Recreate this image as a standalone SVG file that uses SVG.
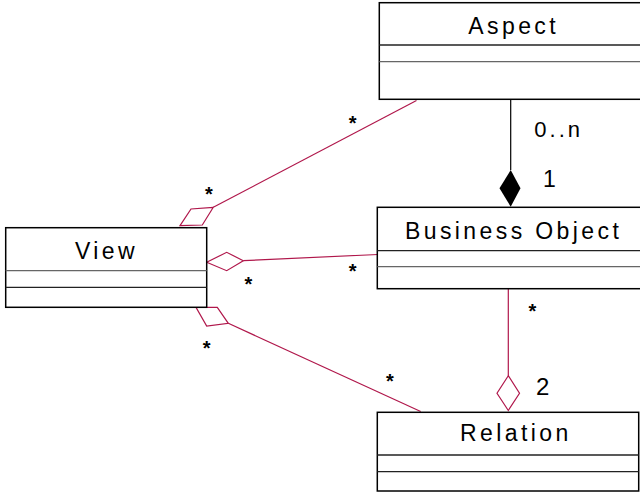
<svg xmlns="http://www.w3.org/2000/svg" width="640" height="496" viewBox="0 0 640 496">
<style>
.box{fill:#fff;stroke:#000;stroke-width:1.5}
.div1{stroke:#222;stroke-width:1.3}
.div2{stroke:#666;stroke-width:1.3}
.name{font-family:"Liberation Sans",Arial,sans-serif;font-size:23px;letter-spacing:3.4px;fill:#000}
.conn{stroke:#b0174b;stroke-width:1.2;fill:none}
.diam{stroke:#b0174b;stroke-width:1.2;fill:#fff}
.star{font-family:"Liberation Sans",Arial,sans-serif;font-size:20px;font-weight:bold;fill:#000;text-anchor:middle}
.mult{font-family:"Liberation Sans",Arial,sans-serif;fill:#000}
</style>
<rect width="640" height="496" fill="#fff"/>
<g id="connectors">
  <line class="conn" x1="416.5" y1="100.5" x2="213.3" y2="207.3"/>
  <polygon class="diam" points="213.3,207.3 191,209 180,225.7 202.3,225"/>
  <line class="conn" x1="243.3" y1="260.7" x2="378" y2="254.5"/>
  <polygon class="diam" points="206.7,262.3 226.7,252.3 243.3,260.7 226.7,270.7"/>
  <line class="conn" x1="228.3" y1="323.3" x2="420.7" y2="411.5"/>
  <polygon class="diam" points="196,307.3 217.3,307.3 228.3,323.3 206.7,326"/>
  <line class="conn" x1="508.3" y1="289" x2="508.3" y2="375.7"/>
  <polygon class="diam" points="508.3,375.7 497,393.3 508.3,410.5 519.5,393.3"/>
  <line x1="510.7" y1="100" x2="510.7" y2="170" stroke="#000" stroke-width="1.2"/>
  <polygon points="510.7,170 499.5,188.3 510.7,206.7 520.5,188.3" fill="#000"/>
  <text class="mult" x="534.3" y="136.7" font-size="22" letter-spacing="3">0..n</text>
  <text class="mult" x="543" y="187.3" font-size="23">1</text>
  <text class="mult" x="536" y="395" font-size="24">2</text>
  <text class="star" x="352.7" y="129.5">*</text>
  <text class="star" x="209" y="201">*</text>
  <text class="star" x="248.3" y="291">*</text>
  <text class="star" x="352.7" y="278">*</text>
  <text class="star" x="206.7" y="354.5">*</text>
  <text class="star" x="390" y="388">*</text>
  <text class="star" x="532.3" y="317.5">*</text>
</g>
<g id="aspect">
  <rect class="box" x="379.3" y="2.7" width="270" height="96.6"/>
  <line class="div1" x1="379.3" y1="45" x2="645" y2="45"/>
  <line class="div2" x1="379.3" y1="61.7" x2="645" y2="61.7"/>
  <text class="name" x="468.3" y="34">Aspect</text>
</g>
<g id="business-object">
  <rect class="box" x="377.3" y="207.3" width="270" height="81.4"/>
  <line class="div1" x1="377.3" y1="250.7" x2="645" y2="250.7"/>
  <line class="div2" x1="377.3" y1="266.7" x2="645" y2="266.7"/>
  <text class="name" x="405" y="238.7">Business Object</text>
</g>
<g id="view">
  <rect class="box" x="5.7" y="227.7" width="201" height="79.6"/>
  <line class="div2" x1="5.7" y1="270.7" x2="206.7" y2="270.7"/>
  <line class="div1" x1="5.7" y1="287.3" x2="206.7" y2="287.3"/>
  <text class="name" x="75" y="259.3">View</text>
</g>
<g id="relation">
  <rect class="box" x="377.3" y="412.3" width="261.4" height="78.7"/>
  <line class="div1" x1="377.3" y1="455" x2="638.7" y2="455"/>
  <line class="div1" x1="377.3" y1="471.7" x2="638.7" y2="471.7"/>
  <text class="name" x="460" y="441" letter-spacing="1.8">Relation</text>
</g>
</svg>
